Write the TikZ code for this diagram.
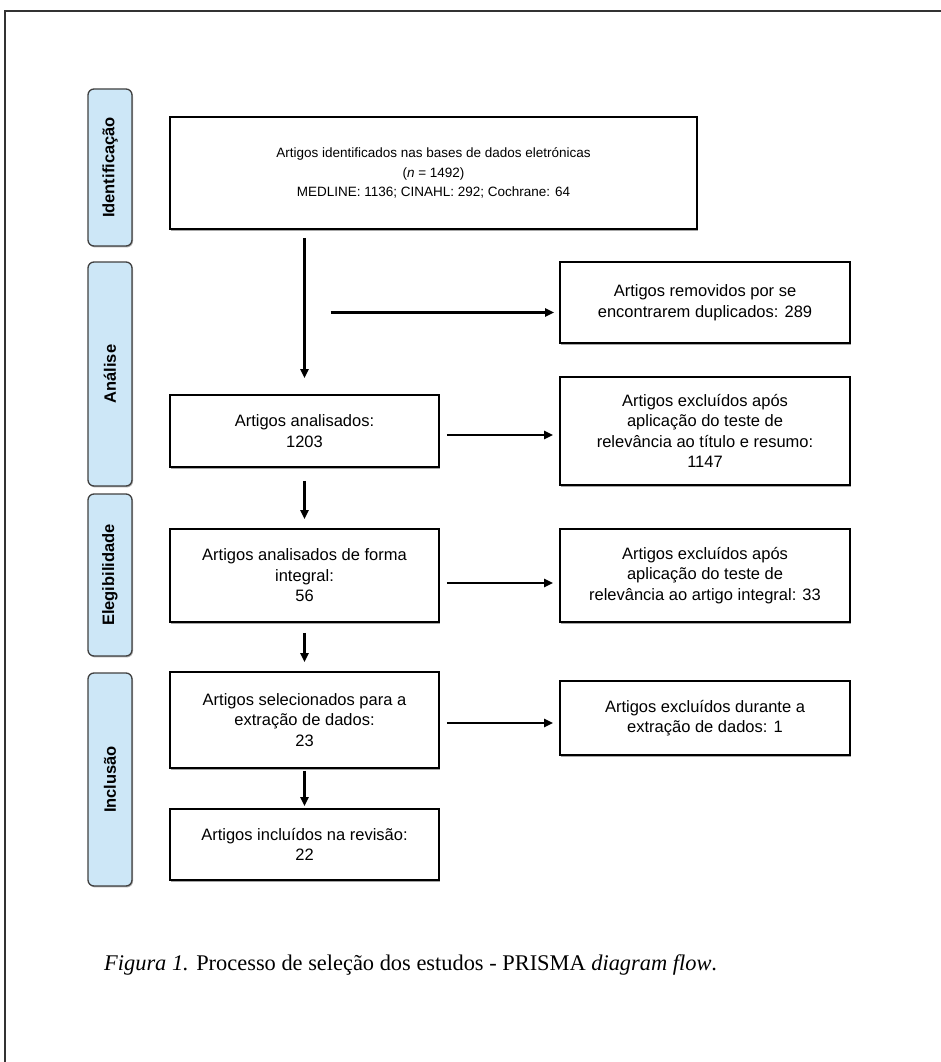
\documentclass[tikz,border=0pt]{standalone}
\usepackage{fontspec}
\setmainfont{Liberation Sans}
\newfontfamily\legfont{Liberation Serif}
\usetikzlibrary{arrows.meta,shadows}

\definecolor{faseazul}{HTML}{CDE7F7}
\tikzset{
  caixa/.style={draw=black, line width=1.6pt, fill=white, align=center, inner sep=0pt,
    font=\fontsize{16.5}{20.5}\selectfont,
    drop shadow={shadow xshift=0.8pt, shadow yshift=-1.8pt, fill=gray!70, opacity=1}},
  fase/.style={draw=black!75, line width=1.3pt, fill=faseazul, rounded corners=6pt,
    inner sep=0pt, font=\fontsize{16.5}{19}\selectfont\bfseries,
    drop shadow={shadow xshift=1pt, shadow yshift=-1.4pt, fill=gray!60, opacity=1}},
  seta/.style={line width=2.2pt, -{Triangle[length=9pt,width=8pt]}}
}

\begin{document}
\begin{tikzpicture}[x=1pt, y=-1pt]
    \useasboundingbox (0,0) rectangle (941,1062);

    % Moldura
    \draw[line width=1.4pt, black!80] (5,1062) -- (5,11) -- (941,11);

    % Fases
    \foreach \nome/\texto/\yc/\alt in {id/Identificação/167.5/157, an/Análise/374/224,
        el/Elegibilidade/575/162, in/Inclusão/779.5/213}
    {
        \node[fase, rotate=90, minimum width=\alt pt, minimum height=44pt] (fase-\nome) at (110,\yc) {\texto};
    }

    % Caixas da coluna principal
    \node[caixa, minimum width=527pt, minimum height=112pt, font=\fontsize{13.5}{19.5}\selectfont] (ident) at (433.5,173)
        {Artigos identificados nas bases de dados eletrónicas\\(\textit{n} = 1492)\\MEDLINE: 1136; CINAHL: 292; Cochrane: 64};
    \node[caixa, minimum width=269pt, minimum height=72pt] (anal) at (304.5,431)
        {Artigos analisados:\\1203};
    \node[caixa, minimum width=269pt, minimum height=93pt] (integ) at (304.5,575.5)
        {Artigos analisados de forma\\integral:\\56};
    \node[caixa, minimum width=269pt, minimum height=96pt] (sel) at (304.5,720)
        {Artigos selecionados para a\\extração de dados:\\23};
    \node[caixa, minimum width=269pt, minimum height=71pt] (incl) at (304.5,844.5)
        {Artigos incluídos na revisão:\\22};

    % Caixas de exclusão
    \node[caixa, minimum width=290pt, minimum height=81pt] (dup) at (705,302.5)
        {Artigos removidos por se\\encontrarem duplicados: 289};
    \node[caixa, minimum width=290pt, minimum height=108pt] (excl1) at (705,431)
        {Artigos excluídos após\\aplicação do teste de\\relevância ao título e resumo:\\1147};
    \node[caixa, minimum width=290pt, minimum height=93pt] (excl2) at (705,575.5)
        {Artigos excluídos após\\aplicação do teste de\\relevância ao artigo integral: 33};
    \node[caixa, minimum width=290pt, minimum height=74pt] (excl3) at (705,718)
        {Artigos excluídos durante a\\extração de dados: 1};

    % Setas verticais
    \draw[seta, shorten <=8pt, shorten >=16pt] (ident.south -| anal.north) -- (anal.north);
    \draw[seta, shorten <=13pt, shorten >=9pt] (anal.south) -- (integ.north);
    \draw[seta, shorten <=10pt, shorten >=9pt] (integ.south) -- (sel.north);
    \draw[seta, shorten <=2pt, shorten >=2pt] (sel.south) -- (incl.north);

    % Setas horizontais
    \coordinate (desvio) at ([yshift=-10pt]dup.west -| anal.north);
    \draw[seta, shorten <=26pt, shorten >=5pt] (desvio) -- (desvio -| dup.west);
    \draw[seta, shorten <=7pt, shorten >=6pt] ([yshift=-4pt]anal.east) -- ([yshift=-4pt]anal.east -| excl1.west);
    \draw[seta, shorten <=7pt, shorten >=6pt] ([yshift=-7.5pt]integ.east) -- ([yshift=-7.5pt]integ.east -| excl2.west);
    \draw[seta, shorten <=7pt, shorten >=6pt] ([yshift=-3pt]sel.east) -- ([yshift=-3pt]sel.east -| excl3.west);

    % Legenda
    \node[anchor=west, inner sep=0pt, font=\legfont\fontsize{22.4}{26}\selectfont] (legenda) at (104,965)
        {\textit{Figura 1.} Processo de seleção dos estudos - PRISMA \textit{diagram flow}.};
\end{tikzpicture}
\end{document}
